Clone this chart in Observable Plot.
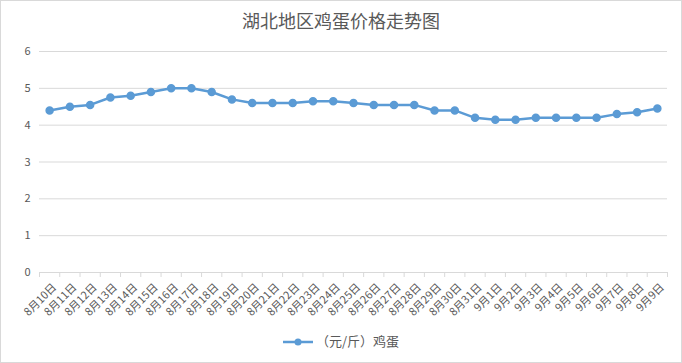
<!DOCTYPE html>
<html>
<head>
<meta charset="utf-8">
<script src="https://cdn.jsdelivr.net/npm/d3@7"></script>
<script src="https://cdn.jsdelivr.net/npm/@observablehq/plot@0.6"></script>
<style>
  body { margin: 0; background: #fff; font-family: "Noto Sans CJK SC", "Noto Sans", sans-serif; }
  #chart { width: 680px; height: 361px; border: 1px solid #d9d9d9; position: relative; background: #fff; overflow: hidden; }
  #title { height: 38px; line-height: 38px; text-align: center; font-size: 18px; color: #595959; }
  #legend { position: absolute; left: 0; right: 0; top: 330px; text-align: center; font-size: 13px; color: #595959; }
  #legend svg { vertical-align: middle; }
</style>
</head>
<body>
<div id="chart">
  <div id="title">湖北地区鸡蛋价格走势图</div>
  <div id="plot"></div>
  <div id="legend"></div>
</div>
<script>
const dates = ["8月10日","8月11日","8月12日","8月13日","8月14日","8月15日","8月16日","8月17日","8月18日","8月19日","8月20日","8月21日","8月22日","8月23日","8月24日","8月25日","8月26日","8月27日","8月28日","8月29日","8月30日","8月31日","9月1日","9月2日","9月3日","9月4日","9月5日","9月6日","9月7日","9月8日","9月9日"];
const prices = [4.4,4.5,4.55,4.75,4.8,4.9,5.0,5.0,4.9,4.7,4.6,4.6,4.6,4.65,4.65,4.6,4.55,4.55,4.55,4.4,4.4,4.2,4.15,4.15,4.2,4.2,4.2,4.2,4.3,4.35,4.45];
const yTicks = [0,1,2,3,4,5,6];
const seriesName = "（元/斤）鸡蛋";
const color = "#5b9bd5";

const data = dates.map((d, i) => ({i, date: d, price: prices[i]}));
const idx = d3.range(dates.length);
const bounds = d3.range(dates.length + 1).map(i => i - 0.5);

const chart = Plot.plot({
  width: 680,
  height: 285,
  marginLeft: 38,
  marginRight: 14,
  marginTop: 12,
  marginBottom: 52,
  style: {fontFamily: '"Noto Sans CJK SC", sans-serif', background: "#fff"},
  x: {type: "linear", domain: [-0.5, dates.length - 0.5]},
  y: {domain: [0, 6]},
  marks: [
    Plot.gridY(yTicks.slice(1), {stroke: "#d9d9d9", strokeOpacity: 1}),
    Plot.ruleY([0], {stroke: "#d9d9d9"}),
    Plot.axisY(yTicks, {tickSize: 0, tickPadding: 9, fontSize: 11, fill: "#595959", label: null}),
    Plot.axisX(bounds, {tickSize: 5, stroke: "#d9d9d9", tickFormat: () => "", label: null}),
    Plot.axisX(idx, {tickSize: 0, tickRotate: -45, tickPadding: 4, dx: 5, dy: 9, tickFormat: i => dates[i], fontSize: 11, fill: "#595959", label: null}),
    Plot.line(data, {x: "i", y: "price", stroke: color, strokeWidth: 2.5}),
    Plot.dot(data, {x: "i", y: "price", r: 3.5, fill: color, stroke: color})
  ]
});
document.getElementById("plot").appendChild(chart);

const leg = document.getElementById("legend");
leg.innerHTML = `<svg width="30" height="10"><line x1="0" y1="5" x2="30" y2="5" stroke="${color}" stroke-width="2.5"/><circle cx="15" cy="5" r="3.5" fill="${color}"/></svg> <span>${seriesName}</span>`;
</script>
</body>
</html>
